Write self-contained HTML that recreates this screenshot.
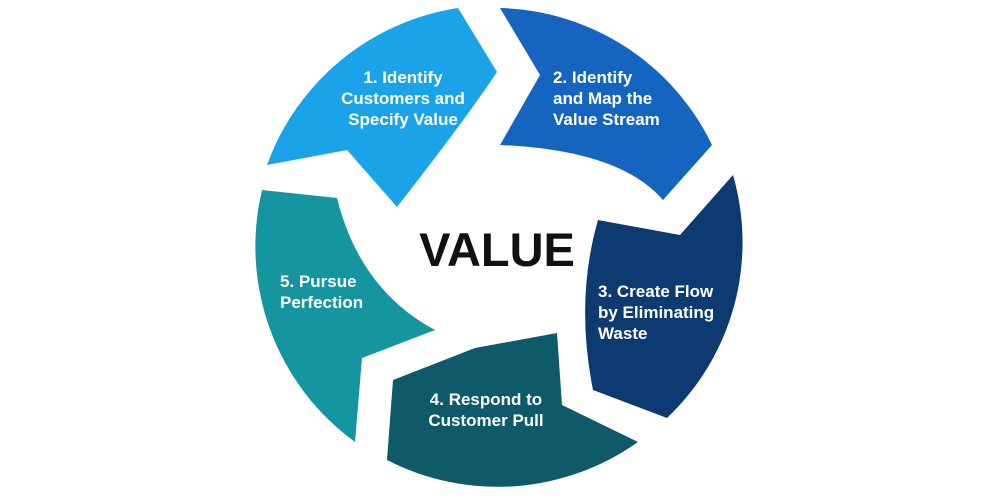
<!DOCTYPE html>
<html><head><style>
html,body{margin:0;padding:0;background:#fff;}
svg{display:block;}
text{font-family:"Liberation Sans",sans-serif;font-weight:bold;}
.l{fill:#fff;font-size:17px;}
</style></head><body>
<svg width="1000" height="500" viewBox="0 0 1000 500">
<path d="M267,165 A242,242 0 0 1 458,8 L497,72 Q465,120 397,207 L347,150 Z" fill="#1aa3e8"/>
<path d="M500,8 A242,242 0 0 1 712,145 L663,200 Q620,150 500,145 L540,75 Z" fill="#1565c0"/>
<path d="M733,175 A242,242 0 0 1 667,418 L593,390 Q575,300 598,220 L680,235 Z" fill="#0d3a70"/>
<path d="M638,442 A242,242 0 0 1 387,460 L393,380 L475,348 L557,333 L562,405 Z" fill="#0e5a68"/>
<path d="M355,442 A242,242 0 0 1 262,190 L337,198 Q360,290 435,330 L362,358 Z" fill="#1595a0"/>
<text x="497" y="266" text-anchor="middle" font-size="47" fill="#111">VALUE</text>
<g class="l" text-anchor="middle">
<text x="403" y="83">1. Identify</text>
<text x="403" y="104">Customers and</text>
<text x="403" y="125">Specify Value</text>
</g>
<g class="l">
<text x="553" y="83">2. Identify</text>
<text x="553" y="104">and Map the</text>
<text x="553" y="125">Value Stream</text>
<text x="598" y="297">3. Create Flow</text>
<text x="598" y="318">by Eliminating</text>
<text x="598" y="339">Waste</text>
<text x="280" y="287">5. Pursue</text>
<text x="280" y="308">Perfection</text>
</g>
<g class="l" text-anchor="middle">
<text x="486" y="405">4. Respond to</text>
<text x="486" y="426">Customer Pull</text>
</g>
</svg>
</body></html>
